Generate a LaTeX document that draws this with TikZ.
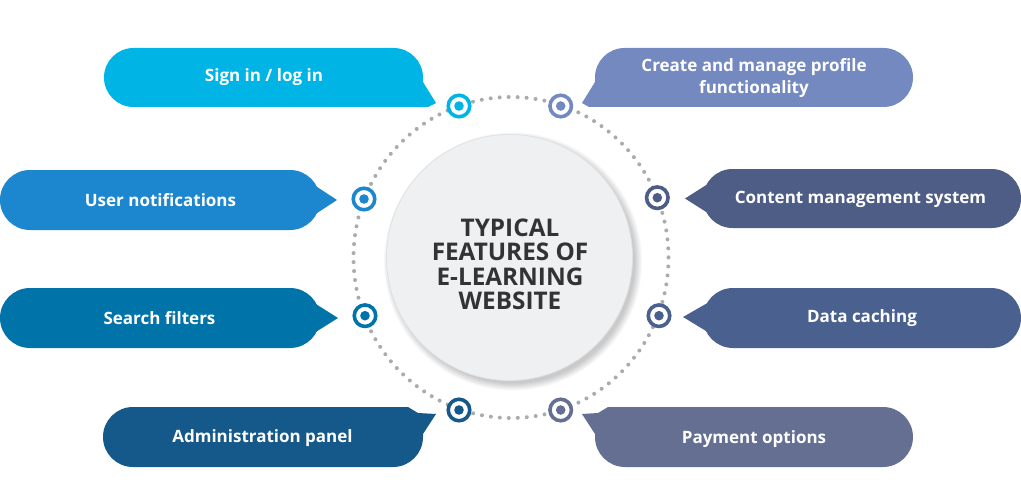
\documentclass[tikz,border=0pt]{standalone}
\usepackage{fontspec}
\setmainfont{Open Sans}
\definecolor{cSign}{HTML}{00B4E5}
\definecolor{cCreate}{HTML}{7389C0}
\definecolor{cUser}{HTML}{1C87CE}
\definecolor{cSearch}{HTML}{0073A8}
\definecolor{cAdmin}{HTML}{15588A}
\definecolor{cPay}{HTML}{656F92}
\definecolor{cCms}{HTML}{4E5D86}
\definecolor{cCache}{HTML}{4A6190}
\definecolor{dotgray}{HTML}{A9ABAE}
\definecolor{hubfill}{HTML}{EEF0F1}
\definecolor{hubline}{HTML}{DFE1E2}
\definecolor{hubtext}{HTML}{333333}
\begin{document}
\begin{tikzpicture}[x=1pt,y=-1pt,
  lbl/.style={text=white, font=\fontsize{17}{22}\selectfont\bfseries, align=center, inner sep=0pt},
  marker/.style={circle, draw=#1, line width=3.6pt, fill=white, minimum size=21.5pt, inner sep=0pt,
    path picture={\fill[#1] (path picture bounding box.center) circle (4.8pt);}},
  hubtxt/.style={text=hubtext, font=\fontsize{24.3}{24.5}\selectfont\bfseries, align=center, inner sep=0pt}
]
\useasboundingbox (0,0) rectangle (1021,487);
\fill[white] (0,0) rectangle (1021,487);

% dotted ring
\draw[dotgray, line width=4pt, line cap=round, dash pattern=on 0pt off 9pt]
  (511,257.5) ellipse [x radius=157.5, y radius=160.5];

% hub shadow
\foreach \i in {1,...,9}{
  \fill[black, opacity=0.024] (513,261.5) circle (121+\i*0.9);
}
\node[circle, fill=hubfill, draw=hubline, line width=0.8pt, minimum size=246pt, inner sep=0pt] (hub) at (509.5,257.5) {};
\node[hubtxt] (hubt) at (510,264.5) {TYPICAL\\FEATURES OF\\E-LEARNING\\WEBSITE};

% bubbles
% Sign in (top-left)
\fill[cSign] (133.5,48) -- (393.5,48) arc[start angle=-90, end angle=0, radius=29.5]
  -- (423,82) -- (436,103) -- (428,107) -- (133.5,107)
  arc[start angle=90, end angle=270, radius=29.5] -- cycle;
% Create (top-right)
\fill[cCreate] (624.5,48) -- (883.5,48) arc[start angle=-90, end angle=90, radius=29.5]
  -- (589,107) -- (582,103) -- (595,82) -- (595,77.5)
  arc[start angle=180, end angle=270, radius=29.5] -- cycle;
% User notifications
\fill[cUser] (30,170) -- (290,170) arc[start angle=-90, end angle=90, radius=30]
  -- (30,230) arc[start angle=90, end angle=270, radius=30] -- cycle;
\fill[cUser] (311,183) -- (337,200) -- (311,217) -- cycle;
% Search filters
\fill[cSearch] (30,288) -- (290,288) arc[start angle=-90, end angle=90, radius=30]
  -- (30,348) arc[start angle=90, end angle=270, radius=30] -- cycle;
\fill[cSearch] (311,301) -- (338,318) -- (311,335) -- cycle;
% Content management system
\fill[cCms] (732.5,169) -- (991.5,169) arc[start angle=-90, end angle=90, radius=29.5]
  -- (732.5,228) arc[start angle=90, end angle=270, radius=29.5] -- cycle;
\fill[cCms] (711,182) -- (685,198.5) -- (711,215) -- cycle;
% Data caching
\fill[cCache] (733,288) -- (991,288) arc[start angle=-90, end angle=90, radius=30]
  -- (733,348) arc[start angle=90, end angle=270, radius=30] -- cycle;
\fill[cCache] (711,301) -- (683,317) -- (711,334) -- cycle;
% Administration panel (bottom-left)
\fill[cAdmin] (133,407) -- (408,407) -- (418,413) -- (436,414) -- (423,434)
  -- (423,437) arc[start angle=0, end angle=90, radius=30]
  -- (133,467) arc[start angle=90, end angle=270, radius=30] -- cycle;
% Payment options (bottom-right)
\fill[cPay] (608,407) -- (883,407) arc[start angle=-90, end angle=90, radius=30]
  -- (625,467) arc[start angle=90, end angle=180, radius=30]
  -- (595,434) -- (582,414) -- (598,413) -- cycle;

% labels
\node[lbl] (l1) at (264,77.5) {Sign in / log in};
\node[lbl] (l2) at (754,78) {Create and manage profile\\functionality};
\node[lbl] (l3) at (160.5,200.5) {User notifications};
\node[lbl] (l4) at (159.5,318.5) {Search filters};
\node[lbl] (l5) at (262.5,438) {Administration panel};
\node[lbl] (l6) at (754,439) {Payment options};
\node[lbl] (l7) at (860.5,199) {Content management system};
\node[lbl] (l8) at (862,318.5) {Data caching};

% markers
\node[marker=cSign] (m1) at (459,106) {};
\node[marker=cCreate] (m2) at (560.7,106) {};
\node[marker=cUser] (m3) at (364,199) {};
\node[marker=cSearch] (m4) at (365,315.7) {};
\node[marker=cCms] (m5) at (657.3,197.7) {};
\node[marker=cCache] (m6) at (659,315.7) {};
\node[marker=cAdmin] (m7) at (459,410) {};
\node[marker=cPay] (m8) at (560.7,410) {};
\end{tikzpicture}
\end{document}
